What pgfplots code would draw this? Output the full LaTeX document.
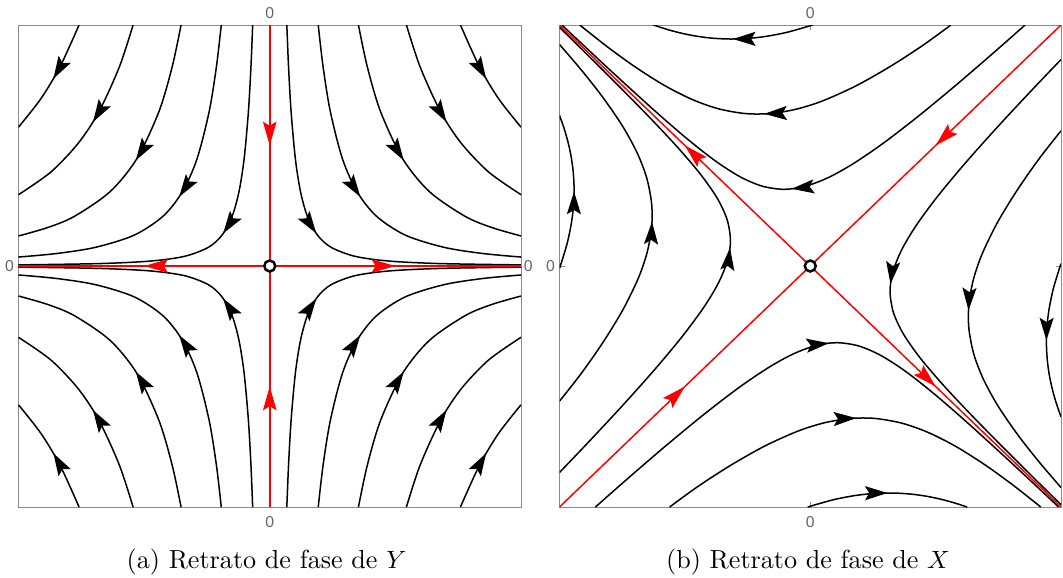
\documentclass[border=0pt]{standalone}
\usepackage{fontspec}
\usepackage{pgfplots}
\pgfplotsset{compat=1.18}
\usepackage{pgfplotstable}
\usetikzlibrary{arrows.meta,decorations.markings}
\newfontfamily\tickfont{Liberation Sans}

% ---- left portrait: curves in the first quadrant (top edge -> right edge)
\pgfplotstableread{
x y
0.068 1
0.0748 0.8264
0.085 0.64
0.102 0.4444
0.1224 0.3086
0.1496 0.2066
0.1904 0.1276
0.2448 0.0772
0.34 0.04
0.476 0.0204
0.68 0.01
1 0.0046
}\LA
\pgfplotstableread{
x y
0.193 1
0.2123 0.8264
0.2413 0.64
0.2895 0.4444
0.3474 0.3086
0.4246 0.2066
0.5404 0.1276
0.6948 0.0772
0.85 0.0516
1 0.0372
}\LB
\pgfplotstableread{
x y
0.353 1
0.3883 0.8264
0.4413 0.64
0.5295 0.4444
0.6354 0.3086
0.7766 0.2066
0.8825 0.16
1 0.1246
}\LC
\pgfplotstableread{
x y
0.544 1
0.5984 0.8264
0.68 0.64
0.7616 0.5102
0.8704 0.3906
1 0.2959
}\LD
\pgfplotstableread{
x y
0.759 1
0.8349 0.8264
0.9108 0.6944
1 0.5761
}\LE

% ---- right portrait: curves in the upper sector (y > |x|)
\pgfplotstableread{
x y
0.010 1.0
-0.0904 0.9703
-0.1790 0.9524
-0.2585 0.9435
-0.3309 0.9420
-0.3975 0.9460
-0.4596 0.9546
-0.5179 0.9670
-0.5733 0.9824
-0.6260 1.0003
}\RA
\pgfplotstableread{
x y
0.5608 1.0
0.4484 0.9151
0.3183 0.8275
0.1812 0.7469
0.0485 0.6848
-0.0566 0.6505
-0.1592 0.6327
-0.2584 0.6325
-0.3659 0.6523
-0.4694 0.6903
-0.5807 0.7487
-0.7000 0.8273
-0.8128 0.9125
-0.9192 1.0
}\RB
\pgfplotstableread{
x y
0.8567 1.0
0.7916 0.9401
0.7111 0.8667
0.5781 0.7478
0.4283 0.6193
0.2877 0.5069
0.1673 0.4219
0.0680 0.3650
-0.0240 0.3295
-0.1061 0.3182
-0.1919 0.3314
-0.2802 0.3704
-0.3818 0.4385
-0.4983 0.5341
-0.6246 0.6482
-0.7699 0.7857
-0.8921 0.9039
-0.9901 0.9997
}\RC

\pgfplotsset{
  pp/.style={scale only axis, width=201pt, height=192.8pt,
    xmin=-1, xmax=1, ymin=-1, ymax=1,
    axis line style={black!45, line width=0.4pt},
    xtick={0}, ytick={0}, xticklabels={}, yticklabels={},
    tick align=inside, major tick length=2pt,
    tick style={black!45, line width=0.4pt}},
  flow/.style={black, line width=0.6pt, smooth,
    postaction={decorate},
    decoration={markings, mark=at position 0.5 with {\arrow{Stealth[length=9pt,width=5.6pt,inset=1.7pt]}}}},
  sep/.style={draw=red, line width=0.6pt,
    postaction={decorate},
    decoration={markings, mark=at position 0.5 with {\arrow[red]{Stealth[length=9.5pt,width=5.4pt,inset=1.6pt]}}}},
  orig/.style={only marks, mark=*, mark size=2.2pt,
    mark options={fill=white, draw=black, line width=1pt}},
}
\tikzset{
  tl/.style={font={\tickfont\fontsize{6.3pt}{7pt}\selectfont}, text=black!60, inner sep=0pt, anchor=center},
}

% four mirror images of one curve (left portrait)
\newcommand\quadL[1]{%
  \addplot[flow] table[x=x, y=y]{#1};
  \addplot[flow] table[x expr=-\thisrow{x}, y=y]{#1};
  \addplot[flow] table[x expr=-\thisrow{x}, y expr=-\thisrow{y}]{#1};
  \addplot[flow] table[x=x, y expr=-\thisrow{y}]{#1};
}
% four mirror images of one curve (right portrait)
\newcommand\quadR[1]{%
  \addplot[flow] table[x=x, y=y]{#1};
  \addplot[flow] table[x expr=\thisrow{y}, y expr=\thisrow{x}]{#1};
  \addplot[flow] table[x expr=-\thisrow{y}, y expr=-\thisrow{x}]{#1};
  \addplot[flow] table[x expr=-\thisrow{x}, y expr=-\thisrow{y}]{#1};
}

\begin{document}
\begin{tikzpicture}
\useasboundingbox (0,0) rectangle (425.2pt,230.8pt);

% ================= (a) =================
\begin{axis}[pp, name=A, at={(7.4pt,28pt)}, anchor=south west]
\quadL{\LA}
\quadL{\LB}
\quadL{\LC}
\quadL{\LD}
\quadL{\LE}
\addplot[sep] coordinates {(0,0) (1,0)};
\addplot[sep] coordinates {(0,0) (-1,0)};
\addplot[sep] coordinates {(0,1) (0,0)};
\addplot[sep] coordinates {(0,-1) (0,0)};
\addplot[orig] coordinates {(0,0)};
\end{axis}
\node[tl, yshift=4.9pt] at (A.north) {0};
\node[tl, yshift=-5.9pt] at (A.south) {0};
\node[tl, xshift=-3.6pt] at (A.west) {0};
\node[tl, xshift=2.9pt] at (A.east) {0};

% ================= (b) =================
\begin{axis}[pp, name=B, at={(223.8pt,28pt)}, anchor=south west, width=200.6pt]
\quadR{\RA}
\quadR{\RB}
\quadR{\RC}
\addplot[sep] coordinates {(1,1) (0,0)};
\addplot[sep] coordinates {(-1,-1) (0,0)};
\addplot[sep] coordinates {(0,0) (-1,1)};
\addplot[sep] coordinates {(0,0) (1,-1)};
\addplot[orig] coordinates {(0,0)};
\end{axis}
\node[tl, yshift=4.9pt] at (B.north) {0};
\node[tl, yshift=-5.9pt] at (B.south) {0};
\node[tl, xshift=-3.6pt] at (B.west) {0};

\node[anchor=base, font=\fontsize{10.45pt}{12pt}\selectfont] at (106.6pt,3.6pt) {(a) Retrato de fase de $Y$};
\node[anchor=base, font=\fontsize{10.45pt}{12pt}\selectfont] at (323.2pt,3.6pt) {(b) Retrato de fase de $X$};
\end{tikzpicture}
\end{document}
